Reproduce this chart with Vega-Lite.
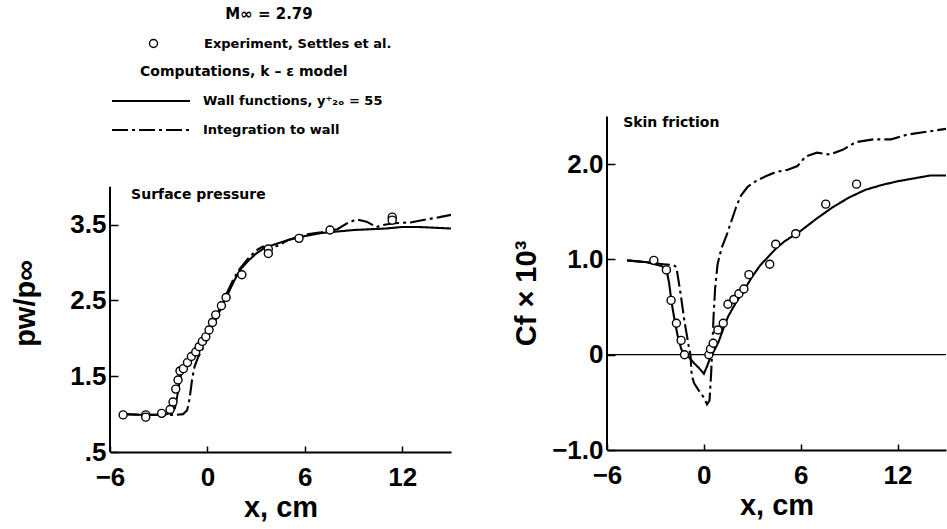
{
  "$schema": "https://vega.github.io/schema/vega-lite/v6.json",
  "background": "white",
  "padding": {"left": 11, "top": 5, "right": 0, "bottom": 0},
  "spacing": 61,
  "config": {
    "view": {"stroke": null},
    "axis": {"labelFont": "Liberation Sans", "labelFontWeight": "bold", "labelFontSize": 26, "labelColor": "black",
             "titleFont": "Liberation Sans", "titleFontWeight": "bold", "titleFontSize": 29, "titleColor": "black",
             "domainColor": "black", "tickColor": "black", "grid": false, "tickWidth": 1.5},
    "axisX": {"tickSize": -6, "domainWidth": 2, "labelPadding": 18, "titlePadding": 3, "labelFlush": false},
    "axisY": {"tickSize": -8, "domain": false, "labelPadding": 12},
    "legend": {"titleFont": "DejaVu Sans", "titleFontSize": 14, "titleFontWeight": "bold", "titleColor": "black",
               "labelFont": "DejaVu Sans", "labelFontSize": 13, "labelFontWeight": "bold", "labelColor": "black",
               "labelLimit": 0, "titleLimit": 0}
  },
  "resolve": {"scale": {"color": "independent", "strokeDash": "independent"}, "legend": {"color": "independent", "strokeDash": "independent"}},
  "datasets": {
    "p_exp": [
      {"source": "Experiment, Settles et al.", "x": -5.19, "y": 0.99},
      {"source": "Experiment, Settles et al.", "x": -3.8, "y": 0.99},
      {"source": "Experiment, Settles et al.", "x": -3.8, "y": 0.96},
      {"source": "Experiment, Settles et al.", "x": -2.82, "y": 1.01},
      {"source": "Experiment, Settles et al.", "x": -2.3, "y": 1.06},
      {"source": "Experiment, Settles et al.", "x": -2.12, "y": 1.16},
      {"source": "Experiment, Settles et al.", "x": -1.95, "y": 1.33},
      {"source": "Experiment, Settles et al.", "x": -1.81, "y": 1.45},
      {"source": "Experiment, Settles et al.", "x": -1.69, "y": 1.57},
      {"source": "Experiment, Settles et al.", "x": -1.48, "y": 1.6},
      {"source": "Experiment, Settles et al.", "x": -1.23, "y": 1.68},
      {"source": "Experiment, Settles et al.", "x": -0.99, "y": 1.76},
      {"source": "Experiment, Settles et al.", "x": -0.72, "y": 1.82},
      {"source": "Experiment, Settles et al.", "x": -0.51, "y": 1.89},
      {"source": "Experiment, Settles et al.", "x": -0.31, "y": 1.96},
      {"source": "Experiment, Settles et al.", "x": -0.1, "y": 2.02},
      {"source": "Experiment, Settles et al.", "x": 0.1, "y": 2.11},
      {"source": "Experiment, Settles et al.", "x": 0.31, "y": 2.21},
      {"source": "Experiment, Settles et al.", "x": 0.51, "y": 2.31},
      {"source": "Experiment, Settles et al.", "x": 0.86, "y": 2.43},
      {"source": "Experiment, Settles et al.", "x": 1.15, "y": 2.54},
      {"source": "Experiment, Settles et al.", "x": 2.12, "y": 2.84},
      {"source": "Experiment, Settles et al.", "x": 3.75, "y": 3.18},
      {"source": "Experiment, Settles et al.", "x": 3.75, "y": 3.12},
      {"source": "Experiment, Settles et al.", "x": 5.64, "y": 3.32},
      {"source": "Experiment, Settles et al.", "x": 7.55, "y": 3.43},
      {"source": "Experiment, Settles et al.", "x": 11.38, "y": 3.6},
      {"source": "Experiment, Settles et al.", "x": 11.38, "y": 3.56}
    ],
    "p_cmp": [
      {"model": "Wall functions, y⁺₂ₒ = 55", "x": -5.2, "y": 1.0},
      {"model": "Wall functions, y⁺₂ₒ = 55", "x": -4, "y": 0.99},
      {"model": "Wall functions, y⁺₂ₒ = 55", "x": -3, "y": 0.99},
      {"model": "Wall functions, y⁺₂ₒ = 55", "x": -2.5, "y": 1.0},
      {"model": "Wall functions, y⁺₂ₒ = 55", "x": -2.2, "y": 1.02},
      {"model": "Wall functions, y⁺₂ₒ = 55", "x": -2.0, "y": 1.08},
      {"model": "Wall functions, y⁺₂ₒ = 55", "x": -1.85, "y": 1.25},
      {"model": "Wall functions, y⁺₂ₒ = 55", "x": -1.7, "y": 1.45},
      {"model": "Wall functions, y⁺₂ₒ = 55", "x": -1.55, "y": 1.58},
      {"model": "Wall functions, y⁺₂ₒ = 55", "x": -1.35, "y": 1.66},
      {"model": "Wall functions, y⁺₂ₒ = 55", "x": -1.0, "y": 1.74},
      {"model": "Wall functions, y⁺₂ₒ = 55", "x": -0.5, "y": 1.86},
      {"model": "Wall functions, y⁺₂ₒ = 55", "x": 0, "y": 2.03},
      {"model": "Wall functions, y⁺₂ₒ = 55", "x": 0.4, "y": 2.2},
      {"model": "Wall functions, y⁺₂ₒ = 55", "x": 0.8, "y": 2.38},
      {"model": "Wall functions, y⁺₂ₒ = 55", "x": 1.2, "y": 2.56},
      {"model": "Wall functions, y⁺₂ₒ = 55", "x": 1.6, "y": 2.74},
      {"model": "Wall functions, y⁺₂ₒ = 55", "x": 2.0, "y": 2.9},
      {"model": "Wall functions, y⁺₂ₒ = 55", "x": 2.5, "y": 3.02},
      {"model": "Wall functions, y⁺₂ₒ = 55", "x": 3.0, "y": 3.12},
      {"model": "Wall functions, y⁺₂ₒ = 55", "x": 3.5, "y": 3.19},
      {"model": "Wall functions, y⁺₂ₒ = 55", "x": 4.0, "y": 3.23},
      {"model": "Wall functions, y⁺₂ₒ = 55", "x": 5.0, "y": 3.3},
      {"model": "Wall functions, y⁺₂ₒ = 55", "x": 6.0, "y": 3.35},
      {"model": "Wall functions, y⁺₂ₒ = 55", "x": 7.0, "y": 3.39},
      {"model": "Wall functions, y⁺₂ₒ = 55", "x": 8.0, "y": 3.41},
      {"model": "Wall functions, y⁺₂ₒ = 55", "x": 9.0, "y": 3.43},
      {"model": "Wall functions, y⁺₂ₒ = 55", "x": 10, "y": 3.44},
      {"model": "Wall functions, y⁺₂ₒ = 55", "x": 11, "y": 3.45},
      {"model": "Wall functions, y⁺₂ₒ = 55", "x": 12, "y": 3.47},
      {"model": "Wall functions, y⁺₂ₒ = 55", "x": 13, "y": 3.47},
      {"model": "Wall functions, y⁺₂ₒ = 55", "x": 14, "y": 3.46},
      {"model": "Wall functions, y⁺₂ₒ = 55", "x": 15, "y": 3.45},
      {"model": "Integration to wall", "x": -5.2, "y": 1.0},
      {"model": "Integration to wall", "x": -4, "y": 0.99},
      {"model": "Integration to wall", "x": -3, "y": 0.99},
      {"model": "Integration to wall", "x": -2, "y": 0.99},
      {"model": "Integration to wall", "x": -1.5, "y": 1.0},
      {"model": "Integration to wall", "x": -1.25, "y": 1.05},
      {"model": "Integration to wall", "x": -1.1, "y": 1.2},
      {"model": "Integration to wall", "x": -0.95, "y": 1.45},
      {"model": "Integration to wall", "x": -0.8, "y": 1.62},
      {"model": "Integration to wall", "x": -0.6, "y": 1.74},
      {"model": "Integration to wall", "x": -0.3, "y": 1.86},
      {"model": "Integration to wall", "x": 0, "y": 2.0},
      {"model": "Integration to wall", "x": 0.4, "y": 2.22},
      {"model": "Integration to wall", "x": 0.8, "y": 2.42},
      {"model": "Integration to wall", "x": 1.2, "y": 2.6},
      {"model": "Integration to wall", "x": 1.6, "y": 2.78},
      {"model": "Integration to wall", "x": 2.0, "y": 2.92},
      {"model": "Integration to wall", "x": 2.5, "y": 3.05},
      {"model": "Integration to wall", "x": 3.0, "y": 3.16},
      {"model": "Integration to wall", "x": 3.4, "y": 3.21},
      {"model": "Integration to wall", "x": 3.8, "y": 3.2},
      {"model": "Integration to wall", "x": 4.3, "y": 3.22},
      {"model": "Integration to wall", "x": 5, "y": 3.3},
      {"model": "Integration to wall", "x": 6, "y": 3.37},
      {"model": "Integration to wall", "x": 7, "y": 3.4},
      {"model": "Integration to wall", "x": 8, "y": 3.44},
      {"model": "Integration to wall", "x": 8.7, "y": 3.53},
      {"model": "Integration to wall", "x": 9.2, "y": 3.57},
      {"model": "Integration to wall", "x": 9.8, "y": 3.54},
      {"model": "Integration to wall", "x": 10.4, "y": 3.47},
      {"model": "Integration to wall", "x": 10.9, "y": 3.5},
      {"model": "Integration to wall", "x": 11.5, "y": 3.52},
      {"model": "Integration to wall", "x": 12.5, "y": 3.53},
      {"model": "Integration to wall", "x": 13.5, "y": 3.57},
      {"model": "Integration to wall", "x": 14.3, "y": 3.6},
      {"model": "Integration to wall", "x": 15, "y": 3.63}
    ],
    "c_exp": [
      {"source": "Experiment, Settles et al.", "x": -3.1, "y": 0.99},
      {"source": "Experiment, Settles et al.", "x": -2.32, "y": 0.89},
      {"source": "Experiment, Settles et al.", "x": -2.03, "y": 0.57},
      {"source": "Experiment, Settles et al.", "x": -1.7, "y": 0.33},
      {"source": "Experiment, Settles et al.", "x": -1.41, "y": 0.15},
      {"source": "Experiment, Settles et al.", "x": -1.2, "y": 0.0},
      {"source": "Experiment, Settles et al.", "x": 0.31, "y": 0.0},
      {"source": "Experiment, Settles et al.", "x": 0.41, "y": 0.06},
      {"source": "Experiment, Settles et al.", "x": 0.58, "y": 0.12},
      {"source": "Experiment, Settles et al.", "x": 0.87, "y": 0.26},
      {"source": "Experiment, Settles et al.", "x": 1.2, "y": 0.33},
      {"source": "Experiment, Settles et al.", "x": 1.49, "y": 0.53},
      {"source": "Experiment, Settles et al.", "x": 1.86, "y": 0.58},
      {"source": "Experiment, Settles et al.", "x": 2.17, "y": 0.64},
      {"source": "Experiment, Settles et al.", "x": 2.48, "y": 0.69},
      {"source": "Experiment, Settles et al.", "x": 2.79, "y": 0.84},
      {"source": "Experiment, Settles et al.", "x": 4.08, "y": 0.95},
      {"source": "Experiment, Settles et al.", "x": 4.45, "y": 1.16},
      {"source": "Experiment, Settles et al.", "x": 5.69, "y": 1.27},
      {"source": "Experiment, Settles et al.", "x": 7.55, "y": 1.58},
      {"source": "Experiment, Settles et al.", "x": 9.46, "y": 1.79}
    ],
    "c_cmp": [
      {"model": "Wall functions, y⁺₂ₒ = 55", "x": -4.76, "y": 0.99},
      {"model": "Wall functions, y⁺₂ₒ = 55", "x": -3.5, "y": 0.97},
      {"model": "Wall functions, y⁺₂ₒ = 55", "x": -2.6, "y": 0.93},
      {"model": "Wall functions, y⁺₂ₒ = 55", "x": -2.3, "y": 0.88},
      {"model": "Wall functions, y⁺₂ₒ = 55", "x": -2.15, "y": 0.75},
      {"model": "Wall functions, y⁺₂ₒ = 55", "x": -2.0, "y": 0.55},
      {"model": "Wall functions, y⁺₂ₒ = 55", "x": -1.8, "y": 0.35},
      {"model": "Wall functions, y⁺₂ₒ = 55", "x": -1.6, "y": 0.18},
      {"model": "Wall functions, y⁺₂ₒ = 55", "x": -1.4, "y": 0.06},
      {"model": "Wall functions, y⁺₂ₒ = 55", "x": -1.2, "y": 0.0},
      {"model": "Wall functions, y⁺₂ₒ = 55", "x": -0.9, "y": -0.03},
      {"model": "Wall functions, y⁺₂ₒ = 55", "x": -0.6, "y": -0.09},
      {"model": "Wall functions, y⁺₂ₒ = 55", "x": -0.3, "y": -0.14},
      {"model": "Wall functions, y⁺₂ₒ = 55", "x": 0.0, "y": -0.2},
      {"model": "Wall functions, y⁺₂ₒ = 55", "x": 0.2, "y": -0.12},
      {"model": "Wall functions, y⁺₂ₒ = 55", "x": 0.4, "y": -0.03},
      {"model": "Wall functions, y⁺₂ₒ = 55", "x": 0.6, "y": 0.03},
      {"model": "Wall functions, y⁺₂ₒ = 55", "x": 0.9, "y": 0.13},
      {"model": "Wall functions, y⁺₂ₒ = 55", "x": 1.2, "y": 0.27},
      {"model": "Wall functions, y⁺₂ₒ = 55", "x": 1.5, "y": 0.4},
      {"model": "Wall functions, y⁺₂ₒ = 55", "x": 2.0, "y": 0.55},
      {"model": "Wall functions, y⁺₂ₒ = 55", "x": 2.5, "y": 0.68},
      {"model": "Wall functions, y⁺₂ₒ = 55", "x": 3.0, "y": 0.82},
      {"model": "Wall functions, y⁺₂ₒ = 55", "x": 3.5, "y": 0.94},
      {"model": "Wall functions, y⁺₂ₒ = 55", "x": 4.0, "y": 1.03},
      {"model": "Wall functions, y⁺₂ₒ = 55", "x": 4.5, "y": 1.12},
      {"model": "Wall functions, y⁺₂ₒ = 55", "x": 5.0, "y": 1.19},
      {"model": "Wall functions, y⁺₂ₒ = 55", "x": 6.0, "y": 1.3},
      {"model": "Wall functions, y⁺₂ₒ = 55", "x": 7.0, "y": 1.43},
      {"model": "Wall functions, y⁺₂ₒ = 55", "x": 8.0, "y": 1.55},
      {"model": "Wall functions, y⁺₂ₒ = 55", "x": 9.0, "y": 1.65},
      {"model": "Wall functions, y⁺₂ₒ = 55", "x": 10.0, "y": 1.73},
      {"model": "Wall functions, y⁺₂ₒ = 55", "x": 11.0, "y": 1.78},
      {"model": "Wall functions, y⁺₂ₒ = 55", "x": 12.0, "y": 1.82},
      {"model": "Wall functions, y⁺₂ₒ = 55", "x": 13.0, "y": 1.85},
      {"model": "Wall functions, y⁺₂ₒ = 55", "x": 14.0, "y": 1.88},
      {"model": "Wall functions, y⁺₂ₒ = 55", "x": 15.0, "y": 1.88},
      {"model": "Integration to wall", "x": -4.76, "y": 0.99},
      {"model": "Integration to wall", "x": -3.5, "y": 0.97},
      {"model": "Integration to wall", "x": -2.5, "y": 0.95},
      {"model": "Integration to wall", "x": -1.9, "y": 0.94},
      {"model": "Integration to wall", "x": -1.7, "y": 0.92},
      {"model": "Integration to wall", "x": -1.45, "y": 0.65},
      {"model": "Integration to wall", "x": -1.2, "y": 0.35},
      {"model": "Integration to wall", "x": -0.95, "y": 0.1},
      {"model": "Integration to wall", "x": -0.83, "y": 0.0},
      {"model": "Integration to wall", "x": -0.75, "y": -0.22},
      {"model": "Integration to wall", "x": -0.6, "y": -0.3},
      {"model": "Integration to wall", "x": -0.3, "y": -0.38},
      {"model": "Integration to wall", "x": 0.0, "y": -0.45},
      {"model": "Integration to wall", "x": 0.2, "y": -0.52},
      {"model": "Integration to wall", "x": 0.35, "y": -0.48},
      {"model": "Integration to wall", "x": 0.45, "y": -0.2},
      {"model": "Integration to wall", "x": 0.52, "y": 0.05},
      {"model": "Integration to wall", "x": 0.6, "y": 0.4},
      {"model": "Integration to wall", "x": 0.7, "y": 0.7},
      {"model": "Integration to wall", "x": 0.85, "y": 0.95},
      {"model": "Integration to wall", "x": 1.1, "y": 1.12},
      {"model": "Integration to wall", "x": 1.4, "y": 1.25},
      {"model": "Integration to wall", "x": 1.7, "y": 1.4},
      {"model": "Integration to wall", "x": 2.0, "y": 1.55},
      {"model": "Integration to wall", "x": 2.3, "y": 1.67},
      {"model": "Integration to wall", "x": 2.7, "y": 1.76},
      {"model": "Integration to wall", "x": 3.2, "y": 1.82},
      {"model": "Integration to wall", "x": 3.8, "y": 1.87},
      {"model": "Integration to wall", "x": 4.5, "y": 1.92},
      {"model": "Integration to wall", "x": 5.2, "y": 1.94},
      {"model": "Integration to wall", "x": 5.8, "y": 1.98},
      {"model": "Integration to wall", "x": 6.3, "y": 2.08},
      {"model": "Integration to wall", "x": 7.0, "y": 2.12},
      {"model": "Integration to wall", "x": 7.8, "y": 2.1},
      {"model": "Integration to wall", "x": 8.6, "y": 2.15},
      {"model": "Integration to wall", "x": 9.4, "y": 2.23},
      {"model": "Integration to wall", "x": 10.5, "y": 2.26},
      {"model": "Integration to wall", "x": 11.6, "y": 2.26},
      {"model": "Integration to wall", "x": 12.6, "y": 2.31},
      {"model": "Integration to wall", "x": 13.8, "y": 2.34},
      {"model": "Integration to wall", "x": 15, "y": 2.37}
    ]
  },
  "hconcat": [
    {
      "width": 341,
      "height": 447,
      "layer": [
        {
          "data": {"name": "p_cmp"},
          "mark": {"type": "line", "color": "black", "strokeWidth": 2.1, "clip": true},
          "encoding": {
            "x": {"field": "x", "type": "quantitative", "scale": {"domain": [-6, 15], "nice": false, "zero": false},
                  "axis": {"values": [-6, 0, 6, 12], "title": "x, cm", "format": "d"}},
            "y": {"field": "y", "type": "quantitative", "scale": {"domain": [0.5, 6.4], "nice": false, "zero": false},
                  "axis": {"values": [0.5, 1.5, 2.5, 3.5], "title": "pw/p∞", "titlePadding": 29, "titleY": 298, "labelExpr": "datum.value == 0.5 ? '.5' : format(datum.value, '.1f')"}},
            "strokeDash": {"field": "model", "type": "nominal",
                           "scale": {"domain": ["Wall functions, y⁺₂ₒ = 55", "Integration to wall"], "range": [[1, 0], [16, 4, 3, 4]]},
                           "legend": {"orient": "none", "legendX": 30, "legendY": 60, "title": "Computations, k – ε model", "titleAnchor": "start", "titlePadding": 11,
                                      "symbolType": "M-4,0H4", "symbolSize": 380, "symbolStrokeWidth": 2, "symbolStrokeColor": "black", "labelOffset": 41, "rowPadding": 11}}
          }
        },
        {
          "data": {"name": "p_exp"},
          "mark": {"type": "point", "filled": false, "fill": "white", "strokeWidth": 1.4, "size": 64, "opacity": 1},
          "encoding": {
            "x": {"field": "x", "type": "quantitative", "scale": {"domain": [-6, 15], "nice": false, "zero": false},
                  "axis": {"values": [-6, 0, 6, 12], "title": "x, cm", "format": "d"}},
            "y": {"field": "y", "type": "quantitative", "scale": {"domain": [0.5, 6.4], "nice": false, "zero": false},
                  "axis": {"values": [0.5, 1.5, 2.5, 3.5], "title": "pw/p∞", "titlePadding": 29, "titleY": 298, "labelExpr": "datum.value == 0.5 ? '.5' : format(datum.value, '.1f')"}},
            "color": {"field": "source", "type": "nominal", "scale": {"range": ["black"]},
                      "legend": {"orient": "none", "legendX": 37, "legendY": 2, "title": "M∞ = 2.79", "titleFontSize": 15, "titleAnchor": "middle", "titlePadding": 15,
                                 "symbolType": "circle", "symbolSize": 64, "symbolStrokeWidth": 1.4, "labelOffset": 44}}
          }
        },
        {
          "data": {"values": [{"label": "Surface pressure"}]},
          "mark": {"type": "rule", "color": "black", "strokeWidth": 2},
          "encoding": {
            "x": {"datum": -6, "type": "quantitative", "scale": {"domain": [-6, 15], "nice": false, "zero": false},
                  "axis": {"values": [-6, 0, 6, 12], "title": "x, cm", "format": "d"}},
            "y": {"datum": 0.5, "type": "quantitative", "scale": {"domain": [0.5, 6.4], "nice": false, "zero": false},
                  "axis": {"values": [0.5, 1.5, 2.5, 3.5], "title": "pw/p∞", "titlePadding": 29, "titleY": 298, "labelExpr": "datum.value == 0.5 ? '.5' : format(datum.value, '.1f')"}},
            "y2": {"datum": 4.0}
          }
        },
        {
          "data": {"values": [{"label": "Surface pressure"}]},
          "mark": {"type": "text", "font": "DejaVu Sans", "fontWeight": "bold", "fontSize": 14, "align": "left", "baseline": "middle", "color": "black"},
          "encoding": {
            "x": {"datum": -4.7, "type": "quantitative", "scale": {"domain": [-6, 15], "nice": false, "zero": false},
                  "axis": {"values": [-6, 0, 6, 12], "title": "x, cm", "format": "d"}},
            "y": {"datum": 3.89, "type": "quantitative", "scale": {"domain": [0.5, 6.4], "nice": false, "zero": false},
                  "axis": {"values": [0.5, 1.5, 2.5, 3.5], "title": "pw/p∞", "titlePadding": 29, "titleY": 298, "labelExpr": "datum.value == 0.5 ? '.5' : format(datum.value, '.1f')"}},
            "text": {"field": "label"}
          }
        }
      ]
    },
    {
      "width": 339,
      "height": 445,
      "layer": [
        {
          "data": {"name": "c_cmp"},
          "mark": {"type": "line", "color": "black", "strokeWidth": 2.1, "clip": true},
          "encoding": {
            "x": {"field": "x", "type": "quantitative", "scale": {"domain": [-6, 15], "nice": false, "zero": false},
                  "axis": {"values": [-6, 0, 6, 12], "title": "x, cm", "format": "d"}},
            "y": {"field": "y", "type": "quantitative", "scale": {"domain": [-1, 3.67], "nice": false, "zero": false},
                  "axis": {"values": [-1, 0, 1, 2], "title": "Cf × 10³", "titlePadding": 10, "titleY": 288, "labelExpr": "datum.value == 0 ? '0' : format(datum.value, '.1f')"}},
            "strokeDash": {"field": "model", "type": "nominal",
                           "scale": {"domain": ["Wall functions, y⁺₂ₒ = 55", "Integration to wall"], "range": [[1, 0], [16, 4, 3, 4]]},
                           "legend": null}
          }
        },
        {
          "data": {"values": [{"label": "Skin friction"}]},
          "mark": {"type": "rule", "color": "black", "strokeWidth": 1.2},
          "encoding": {
            "y": {"datum": 0, "type": "quantitative", "scale": {"domain": [-1, 3.67], "nice": false, "zero": false},
                  "axis": {"values": [-1, 0, 1, 2], "title": "Cf × 10³", "titlePadding": 10, "titleY": 288, "labelExpr": "datum.value == 0 ? '0' : format(datum.value, '.1f')"}}
          }
        },
        {
          "data": {"name": "c_exp"},
          "mark": {"type": "point", "filled": false, "fill": "white", "strokeWidth": 1.4, "size": 64, "opacity": 1},
          "encoding": {
            "x": {"field": "x", "type": "quantitative", "scale": {"domain": [-6, 15], "nice": false, "zero": false},
                  "axis": {"values": [-6, 0, 6, 12], "title": "x, cm", "format": "d"}},
            "y": {"field": "y", "type": "quantitative", "scale": {"domain": [-1, 3.67], "nice": false, "zero": false},
                  "axis": {"values": [-1, 0, 1, 2], "title": "Cf × 10³", "titlePadding": 10, "titleY": 288, "labelExpr": "datum.value == 0 ? '0' : format(datum.value, '.1f')"}},
            "color": {"field": "source", "type": "nominal", "scale": {"range": ["black"]}, "legend": null}
          }
        },
        {
          "data": {"values": [{"label": "Skin friction"}]},
          "mark": {"type": "rule", "color": "black", "strokeWidth": 2},
          "encoding": {
            "x": {"datum": -6, "type": "quantitative", "scale": {"domain": [-6, 15], "nice": false, "zero": false},
                  "axis": {"values": [-6, 0, 6, 12], "title": "x, cm", "format": "d"}},
            "y": {"datum": -1, "type": "quantitative", "scale": {"domain": [-1, 3.67], "nice": false, "zero": false},
                  "axis": {"values": [-1, 0, 1, 2], "title": "Cf × 10³", "titlePadding": 10, "titleY": 288, "labelExpr": "datum.value == 0 ? '0' : format(datum.value, '.1f')"}},
            "y2": {"datum": 2.5}
          }
        },
        {
          "data": {"values": [{"label": "Skin friction"}]},
          "mark": {"type": "text", "font": "DejaVu Sans", "fontWeight": "bold", "fontSize": 14, "align": "left", "baseline": "middle", "color": "black"},
          "encoding": {
            "x": {"datum": -5.0, "type": "quantitative", "scale": {"domain": [-6, 15], "nice": false, "zero": false},
                  "axis": {"values": [-6, 0, 6, 12], "title": "x, cm", "format": "d"}},
            "y": {"datum": 2.43, "type": "quantitative", "scale": {"domain": [-1, 3.67], "nice": false, "zero": false},
                  "axis": {"values": [-1, 0, 1, 2], "title": "Cf × 10³", "titlePadding": 10, "titleY": 288, "labelExpr": "datum.value == 0 ? '0' : format(datum.value, '.1f')"}},
            "text": {"field": "label"}
          }
        }
      ]
    }
  ]
}
